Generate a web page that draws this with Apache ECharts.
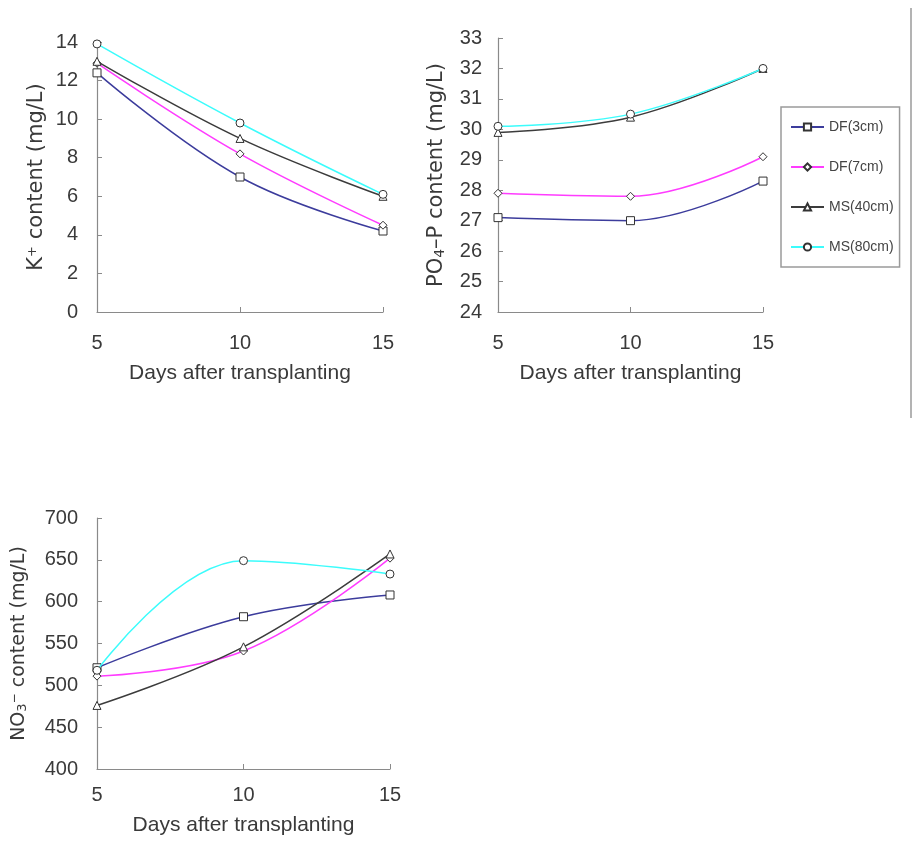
<!DOCTYPE html>
<html>
<head>
<meta charset="utf-8">
<title>Nutrient content after transplanting</title>
<script src="https://cdn.jsdelivr.net/npm/echarts@6/dist/echarts.min.js"></script>
<style>
  html, body { margin: 0; padding: 0; background: #fff; }
  #chart { width: 914px; height: 843px; }
</style>
</head>
<body>
<div id="chart"></div>
<script>
// Sampling days (x axis)
const days = [5, 10, 15];
const treatments = ['DF(3cm)', 'DF(7cm)', 'MS(40cm)', 'MS(80cm)'];

// K+ content (mg/L)
const kDF3 = [12.4, 7.0, 4.2];
const kDF7 = [12.9, 8.2, 4.5];
const kMS40 = [13.0, 9.0, 6.0];
const kMS80 = [13.9, 9.8, 6.1];

// PO4-P content (mg/L)
const pDF3 = [27.1, 27.0, 28.3];
const pDF7 = [27.9, 27.8, 29.1];
const pMS40 = [29.9, 30.4, 32.0];
const pMS80 = [30.1, 30.5, 32.0];

// NO3- content (mg/L)
const nDF3 = [521, 582, 608];
const nDF7 = [511, 541, 652];
const nMS40 = [476, 546, 657];
const nMS80 = [518, 649, 633];

// Tick settings per panel
const kTicks = { min: 0, max: 14, interval: 2 };
const pTicks = { min: 24, max: 33, interval: 1 };
const nTicks = { min: 400, max: 700, interval: 50 };
const dayTicks = { min: 5, max: 15, interval: 5 };

const lineColors = ['#3c3c9c', '#ff3cff', '#3c3c3c', '#3cfcfc'];
const markers = ['rect', 'diamond', 'triangle', 'circle'];
const markerSizes = [8, 8, 8, 8];

const axisGray = '#8a8a8a';
const textGray = '#3a3a3a';
const sans = '"Liberation Sans", Arial, sans-serif';
const wide = '"DejaVu Sans", sans-serif';

function xAxisFor(gridIndex, labelMargin, nameGap) {
  return {
    type: 'value', gridIndex,
    min: dayTicks.min, max: dayTicks.max, interval: dayTicks.interval,
    name: 'Days after transplanting', nameLocation: 'middle', nameGap,
    nameTextStyle: { fontFamily: sans, fontSize: 21, color: textGray },
    axisLine: { show: true, lineStyle: { color: axisGray, width: 1.2 } },
    axisTick: { show: true, inside: true, length: 5, lineStyle: { color: axisGray } },
    axisLabel: { margin: labelMargin, fontFamily: sans, fontSize: 20, color: textGray },
    splitLine: { show: false }
  };
}

function yAxisFor(gridIndex, ticks, name, nameSize, nameGap, labelMargin) {
  return {
    type: 'value', gridIndex,
    min: ticks.min, max: ticks.max, interval: ticks.interval,
    name, nameLocation: 'middle', nameGap,
    nameTextStyle: {
      fontFamily: wide, fontSize: nameSize, color: textGray,
      rich: {
        sup: { fontFamily: wide, fontSize: Math.round(nameSize * 0.62), color: textGray, verticalAlign: 'top', padding: [0, 0, 8, 0] },
        sub: { fontFamily: wide, fontSize: Math.round(nameSize * 0.68), color: textGray, verticalAlign: 'bottom', padding: [6, 0, 0, 0] },
        base: { fontFamily: wide, fontSize: nameSize, color: textGray }
      }
    },
    axisLine: { show: true, lineStyle: { color: axisGray, width: 1.2 } },
    axisTick: { show: true, inside: true, length: 5, lineStyle: { color: axisGray } },
    axisLabel: { margin: labelMargin, fontFamily: sans, fontSize: 20, color: textGray },
    splitLine: { show: false }
  };
}

function line(i, gridIndex, values) {
  return {
    type: 'line', name: treatments[i],
    xAxisIndex: gridIndex, yAxisIndex: gridIndex,
    data: days.map((d, k) => [d, values[k]]),
    smooth: 0.4,
    symbol: markers[i], symbolSize: markerSizes[i], showAllSymbol: true,
    lineStyle: { color: lineColors[i], width: 1.5 },
    itemStyle: { color: '#ffffff', borderColor: '#333333', borderWidth: 1 },
    emphasis: { disabled: true },
    z: 2 + i
  };
}

const chart = echarts.init(document.getElementById('chart'), null, { renderer: 'canvas' });

chart.setOption({
  animation: false,
  backgroundColor: '#ffffff',
  grid: [
    { left: 97, top: 42, width: 286, height: 270 },
    { left: 498, top: 38, width: 265, height: 274 },
    { left: 97, top: 518, width: 293, height: 251 }
  ],
  xAxis: [
    xAxisFor(0, 21, 51),
    xAxisFor(1, 21, 51),
    xAxisFor(2, 16, 46)
  ],
  yAxis: [
    yAxisFor(0, kTicks, '{base|K}{sup|+}{base| content (mg/L)}', 21, 50, 19),
    yAxisFor(1, pTicks, '{base|PO}{sub|4}{base|–P content (mg/L)}', 21, 51, 16),
    yAxisFor(2, nTicks, '{base|NO}{sub|3}{sup|−}{base| content (mg/L)}', 19, 68, 19)
  ],
  legend: {
    orient: 'vertical',
    left: 781, top: 107,
    data: treatments,
    itemWidth: 33, itemHeight: 9, itemGap: 26,
    padding: [13, 6, 13, 9],
    borderColor: '#9a9a9a', borderWidth: 1.5,
    selectedMode: false,
    textStyle: { fontFamily: sans, fontSize: 14, color: '#444444' }
  },
  graphic: [
    {
      type: 'line',
      shape: { x1: 911, y1: 8, x2: 911, y2: 418 },
      style: { stroke: '#9a9a9a', lineWidth: 1.5 }
    }
  ],
  series: [
    line(0, 0, kDF3), line(1, 0, kDF7), line(2, 0, kMS40), line(3, 0, kMS80),
    line(0, 1, pDF3), line(1, 1, pDF7), line(2, 1, pMS40), line(3, 1, pMS80),
    line(0, 2, nDF3), line(1, 2, nDF7), line(2, 2, nMS40), line(3, 2, nMS80)
  ]
});
</script>
</body>
</html>
